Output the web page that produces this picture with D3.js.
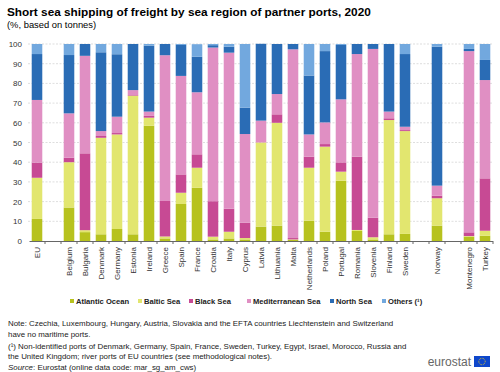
<!DOCTYPE html>
<html>
<head>
<meta charset="utf-8">
<script src="https://cdn.jsdelivr.net/npm/d3@7"></script>
<style>
  body { margin: 0; background: #fff; }
  svg { font-family: "Liberation Sans", Arial, sans-serif; }
</style>
</head>
<body>
<svg width="500" height="372"></svg>
<script>
// categories, blank ones are the gaps between groups
var countries = ['EU', '', 'Belgium', 'Bulgaria', 'Denmark', 'Germany', 'Estonia', 'Ireland', 'Greece',
  'Spain', 'France', 'Croatia', 'Italy', 'Cyprus', 'Latvia', 'Lithuania', 'Malta', 'Netherlands',
  'Poland', 'Portugal', 'Romania', 'Slovenia', 'Finland', 'Sweden', ' ', 'Norway', '  ', 'Montenegro', 'Turkey'];

var seriesNames = ['Atlantic Ocean', 'Baltic Sea', 'Black Sea', 'Mediterranean Sea', 'North Sea', 'Others (¹)'];
var colors = ['#b7c21e', '#e2e66f', '#c74a94', '#e08fc3', '#2a6cb5', '#72a8de'];

// values per country (null for the gaps)
var atlantic      = [11.2, null, 17.0, 4.5, 3.4, 6.1, 3.4, 58.5, 1.3, 18.8, 27.0, 0.8, 1.3, 0.8, 7.3, 7.8, 0.5, 10.3, 4.7, 30.6, 5.1, 0.8, 3.4, 3.6, null, 7.8, null, 2.2, 2.7];
var baltic        = [20.9, null, 23.0, 1.0, 49.0, 48.0, 70.4, 4.1, 1.0, 5.7, 10.2, 1.4, 3.4, 0.7, 42.7, 52.2, 0.3, 26.9, 43.2, 4.6, 0.5, 1.1, 58.0, 52.2, null, 13.9, null, 0.3, 2.5];
var blackSea      = [7.7, null, 2.3, 39.0, 0.9, 0.7, 0.3, 0.9, 18.0, 9.3, 6.8, 18.0, 11.7, 7.8, 0.1, 4.3, 0.7, 5.6, 1.3, 4.7, 37.2, 9.9, 0.9, 0.5, null, 1.3, null, 1.9, 26.6];
var mediterranean = [31.8, null, 22.5, 49.5, 2.5, 8.3, 2.5, 2.2, 74.0, 50.0, 31.5, 78.0, 79.2, 45.0, 11.0, 10.3, 95.8, 11.3, 11.0, 32.0, 52.1, 85.7, 3.4, 1.7, null, 5.1, null, 92.0, 49.9];
var northSea      = [23.3, null, 29.6, 6.0, 40.0, 31.7, 23.4, 33.5, 5.7, 15.7, 18.0, 1.2, 3.0, 13.4, 39.0, 25.4, 2.7, 29.9, 36.2, 27.6, 5.1, 2.5, 34.3, 36.9, null, 70.5, null, 1.1, 10.2];
var others        = [5.1, null, 5.6, 0, 4.2, 5.2, 0, 0.8, 0, 0.5, 6.4, 0.6, 1.4, 32.3, 0, 0, 0, 16.0, 3.6, 0.5, 0, 0, 0, 5.1, null, 1.4, null, 2.5, 8.1];

var yTicks = [0, 10, 20, 30, 40, 50, 60, 70, 80, 90, 100];

var series = [atlantic, baltic, blackSea, mediterranean, northSea, others];
var rows = countries.map(function(c, i) {
  var r = { country: c };
  seriesNames.forEach(function(s, j) { r[s] = series[j][i] || 0; });
  return r;
});

var svg = d3.select('svg');

svg.append('text').attr('x', 7).attr('y', 16)
  .attr('font-size', 11.8).attr('font-weight', 'bold').attr('fill', '#000')
  .text('Short sea shipping of freight by sea region of partner ports, 2020');
svg.append('text').attr('x', 7).attr('y', 28)
  .attr('font-size', 9.4).attr('fill', '#000')
  .text('(%, based on tonnes)');

var x = d3.scaleBand().domain(countries).range([29, 493]).paddingInner(0.34).paddingOuter(0.17);
var y = d3.scaleLinear().domain([0, 100]).range([241, 44]);

// gridlines
svg.append('g').selectAll('line')
  .data(yTicks.filter(function(d) { return d > 0; }))
  .enter().append('line')
  .attr('x1', 28).attr('x2', 492)
  .attr('y1', function(d) { return y(d); }).attr('y2', function(d) { return y(d); })
  .attr('stroke', '#c8c8c8').attr('stroke-width', 0.6).attr('stroke-dasharray', '2,1.5');

// y axis labels
svg.append('g').selectAll('text')
  .data(yTicks).enter().append('text')
  .attr('x', 22).attr('y', function(d) { return y(d) + 3; })
  .attr('text-anchor', 'end').attr('font-size', 8).attr('fill', '#333')
  .text(function(d) { return d; });

var stack = d3.stack().keys(seriesNames)(rows);

svg.append('g').selectAll('g')
  .data(stack).enter().append('g')
  .attr('fill', function(d, i) { return colors[i]; })
  .selectAll('rect')
  .data(function(d) { return d; })
  .enter().append('rect')
  .attr('x', function(d) { return x(d.data.country); })
  .attr('width', x.bandwidth())
  .attr('y', function(d) { return y(d[1]); })
  .attr('height', function(d) { return y(d[0]) - y(d[1]); });

// x axis
var xAxis = svg.append('g')
  .attr('transform', 'translate(0,241)')
  .call(d3.axisBottom(x).tickSize(3).tickSizeOuter(0));
xAxis.select('.domain').attr('stroke', '#666').attr('d', 'M29.5,0.5H493');
xAxis.selectAll('.tick line')
  .attr('stroke', '#666')
  .attr('transform', 'translate(' + (x.step() / 2) + ',0)');
xAxis.selectAll('.tick text')
  .attr('font-size', 8).attr('fill', '#333')
  .attr('font-family', '"Liberation Sans", Arial, sans-serif')
  .attr('transform', 'rotate(-90)')
  .attr('text-anchor', 'end')
  .attr('x', -6).attr('y', 0).attr('dy', '0.32em');

// legend
var legendX = [70, 138, 189, 247, 330, 382];
var legend = svg.append('g').selectAll('g')
  .data(seriesNames).enter().append('g')
  .attr('transform', function(d, i) { return 'translate(' + legendX[i] + ',298)'; });
legend.append('rect').attr('width', 4).attr('height', 4).attr('y', 1)
  .attr('fill', function(d, i) { return colors[i]; });
legend.append('text').attr('x', 6).attr('y', 6)
  .attr('font-size', 7.6).attr('font-weight', 'bold').attr('fill', '#222')
  .text(function(d) { return d; });

// notes
var notes = [
  ['Note: Czechia, Luxembourg, Hungary,  Austria, Slovakia and the EFTA countries Liechtenstein and Switzerland', 326],
  ['have no maritime ports.', 337],
  ['(¹) Non-identified ports of Denmark, Germany, Spain, France, Sweden, Turkey, Egypt, Israel, Morocco, Russia and', 349],
  ['the United Kingdom; river ports of EU countries (see methodological notes).', 359]
];
svg.append('g').selectAll('text')
  .data(notes).enter().append('text')
  .attr('x', 8).attr('y', function(d) { return d[1]; })
  .attr('font-size', 7.9).attr('fill', '#222')
  .text(function(d) { return d[0]; });

var src = svg.append('text').attr('x', 8).attr('y', 370).attr('font-size', 7.9).attr('fill', '#222');
src.append('tspan').attr('font-style', 'italic').text('Source');
src.append('tspan').text(': Eurostat (online data code: mar_sg_am_cws)');

// eurostat logo
svg.append('text').attr('x', 471).attr('y', 366).attr('text-anchor', 'end')
  .attr('font-size', 12).attr('fill', '#666').text('eurostat');
svg.append('rect').attr('x', 474).attr('y', 356).attr('width', 16).attr('height', 11).attr('fill', '#0e47cb');
svg.append('circle').attr('cx', 482).attr('cy', 361.5).attr('r', 3.2)
  .attr('fill', 'none').attr('stroke', '#ffd617').attr('stroke-width', 0.9).attr('stroke-dasharray', '0.8,0.8');
</script>
</body>
</html>
